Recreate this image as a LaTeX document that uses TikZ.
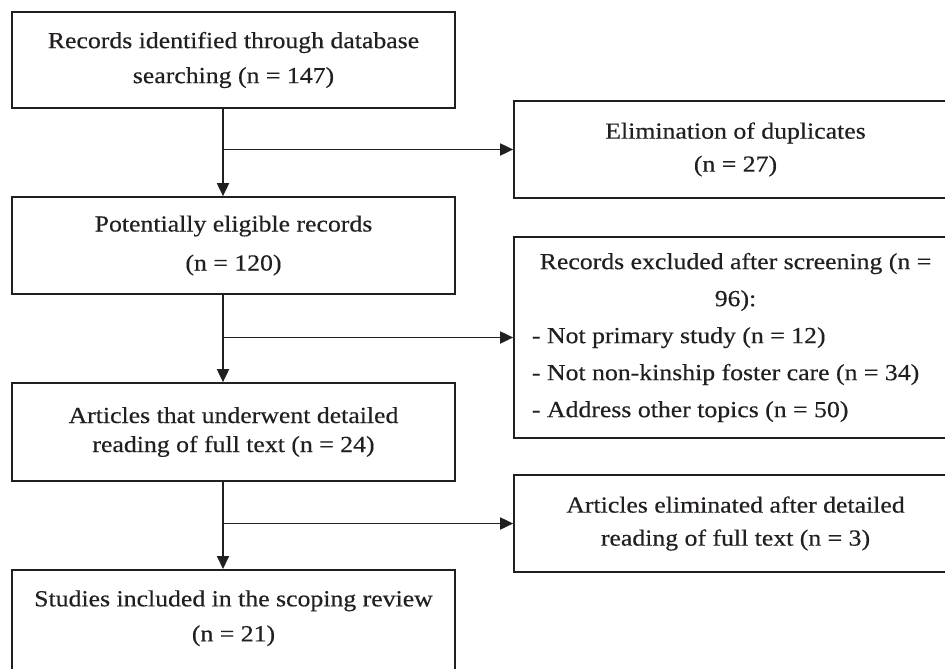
\documentclass[tikz,border=0pt]{standalone}
\usepackage{fontspec}
\setmainfont{Liberation Serif}[FakeStretch=1.12,FakeBold=0.4]
\usetikzlibrary{arrows.meta}
\definecolor{ink}{RGB}{35,31,32}
\tikzset{
  box/.style={draw=ink, line width=1.7pt, text=ink, align=center, minimum width=443pt, minimum height=97pt, inner sep=0pt},
  arr/.style={draw=ink, line width=1.8pt, -{Triangle[width=12pt,length=13pt]}},
}
\begin{document}
\begin{tikzpicture}[x=1pt,y=-1pt]
\useasboundingbox (0,0) rectangle (945,669);
\clip (0,0) rectangle (945,669);
\fill[white] (0,0) rectangle (945,669);
\node[box, minimum height=96pt, font=\fontsize{23}{35}\selectfont] (b1) at (233.5,60) {Records identified through database\\searching (n = 147)};
\node[box, font=\fontsize{23}{39}\selectfont] (b2) at (233.5,245.5) {Potentially eligible records\\(n = 120)};
\node[box, minimum height=98pt, font=\fontsize{23}{29}\selectfont] (b3) at (233.5,432) {Articles that underwent detailed\\reading of full text (n = 24)};
\node[box, minimum height=0pt, inner ysep=20.5pt, anchor=north, font=\fontsize{23}{35}\selectfont] (b4) at (233.5,569) {Studies included in the scoping review\\(n = 21)\rule[-25pt]{0pt}{0pt}};
\node[box, font=\fontsize{23}{33}\selectfont] (dup) at (735.5,149.5) {Elimination of duplicates\\(n = 27)};
\node[box, minimum height=201pt, font=\fontsize{23}{37}\selectfont] (exc) at (735.5,337.5) {Records excluded after screening (n =\\96):\\\makebox[407pt][l]{- Not primary study (n = 12)}\\\makebox[407pt][l]{- Not non-kinship foster care (n = 34)}\\\makebox[407pt][l]{- Address other topics (n = 50)}};
\node[box, font=\fontsize{23}{33}\selectfont] (eli) at (735.5,523.5) {Articles eliminated after detailed\\reading of full text (n = 3)};
\coordinate (sp) at (223,0);
\draw[arr] (sp |- b1.south) -- (sp |- b2.north);
\draw[arr] (sp |- b2.south) -- (sp |- b3.north);
\draw[arr] (sp |- b3.south) -- (sp |- b4.north);
\draw[arr] (sp |- dup.west) -- (dup.west);
\draw[arr] (sp |- exc.west) -- (exc.west);
\draw[arr] (sp |- eli.west) -- (eli.west);
\end{tikzpicture}
\end{document}
